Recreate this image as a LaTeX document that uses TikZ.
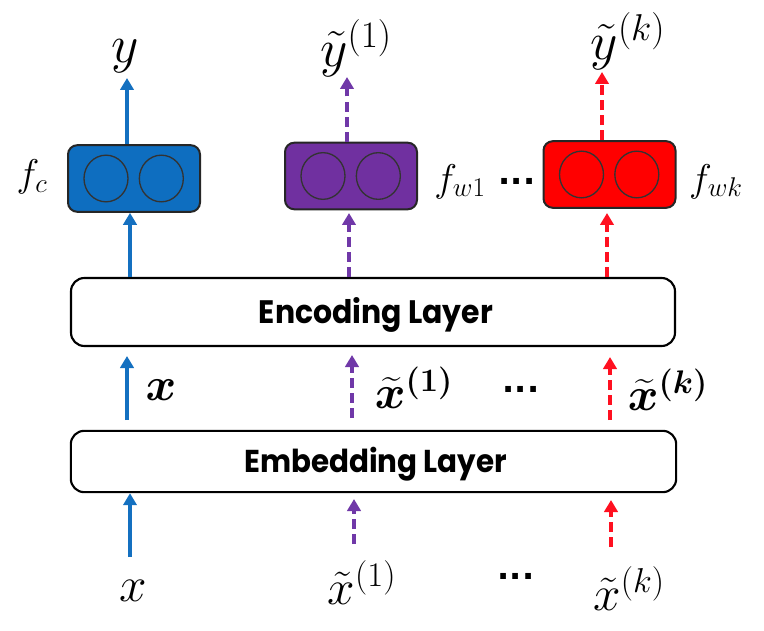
\RequirePackage{fix-cm}
\documentclass[tikz,border=0pt]{standalone}
\usepackage{amsmath,bm}
\usepackage{fontspec}
\usepackage{graphicx}
\usetikzlibrary{arrows.meta}
\newfontfamily\layerfont{Poppins}
\newfontfamily\dotfont{DejaVu Sans}
\definecolor{cblue}{RGB}{14,110,192}
\definecolor{ablue}{RGB}{20,112,192}
\definecolor{cpurple}{RGB}{112,48,160}
\definecolor{apurple}{RGB}{112,56,168}
\definecolor{cred}{RGB}{255,0,0}
\definecolor{ared}{RGB}{255,16,32}
\tikzset{
  fbox/.style={draw=black!85, line width=1.5pt, rounded corners=7pt, minimum width=99pt, minimum height=50pt, inner sep=0pt},
  layerbox/.style={draw=black, line width=1.6pt, rounded corners=10pt, fill=white, inner sep=0pt},
  neuron/.style={draw=black!80, line width=1pt},
  arr/.style={line width=2.7pt, -{Triangle[width=10pt,length=9pt]}},
  dsh/.style={dash pattern=on 7.5pt off 3.8pt},
  ylab/.style={font=\fontsize{40}{44}\selectfont, inner sep=0pt, anchor=base},
  xlab/.style={font=\fontsize{37}{42}\selectfont, inner sep=0pt, anchor=base},
  mlab/.style={font=\fontsize{35}{40}\selectfont, inner sep=0pt, anchor=base},
  flab/.style={font=\fontsize{29}{33}\selectfont, inner sep=0pt, anchor=base},
  dotlab/.style={font=\dotfont\bfseries\fontsize{24}{28}\selectfont, inner sep=0pt},
  laytext/.style={inner sep=0pt, anchor=base}
}
\begin{document}
\begin{tikzpicture}[x=0.75pt,y=-0.75pt]
\useasboundingbox (0,0) rectangle (764,631);

% layers
\node[layerbox, minimum width=453pt, minimum height=51pt] (enc) at (373,312) {};
\node[laytext] (enctext) at (376,323) {\resizebox{175.5pt}{19.5pt}{\layerfont\bfseries Encoding Layer}};
\node[layerbox, minimum width=454pt, minimum height=46pt] (emb) at (373.5,461.5) {};
\node[laytext] (embtext) at (375.5,472) {\resizebox{197pt}{19pt}{\layerfont\bfseries Embedding Layer}};

% classifier boxes
\node[fbox, fill=cblue] (fc) at (134,178.5) {};
\node[fbox, fill=cpurple] (fw1) at (351,176) {};
\node[fbox, fill=cred] (fwk) at (609.5,174.5) {};
\foreach \b in {fc,fw1,fwk}{
  \draw[neuron] ([xshift=-21pt]\b.center) ellipse [x radius=16.5pt, y radius=17.5pt];
  \draw[neuron] ([xshift=20.5pt]\b.center) ellipse [x radius=16.5pt, y radius=17.5pt];
}

% labels
\node[flab] (lfc) at (32,187) {$f_c$};
\node[flab] (lfw1) at (460,191) {$f_{w1}$};
\node[dotlab] (d1) at (517,181) {...};
\node[flab] (lfwk) at (716,191) {$f_{wk}$};

\node[ylab] (y) at (125,63) {$y$};
\node[ylab] (y1) at (356,67) {$\tilde{y}^{(1)}$};
\node[ylab] (yk) at (628,60) {$\tilde{y}^{(k)}$};

\node[mlab] (mx) at (161,400) {$\bm{x}$};
\node[mlab] (mx1) at (414,408) {$\bm{\widetilde{x}^{(1)}}$};
\node[dotlab] (d2) at (521,389) {...};
\node[mlab] (mxk) at (668,410) {$\bm{\widetilde{x}^{(k)}}$};

\node[xlab] (bx) at (133,601) {$x$};
\node[xlab] (bx1) at (362,604) {$\tilde{x}^{(1)}$};
\node[dotlab] (d3) at (516,576) {...};
\node[xlab] (bxk) at (629,610) {$\tilde{x}^{(k)}$};

% coordinates for free arrow ends
\coordinate (b0) at (130,557);
\coordinate (b1a) at (127,420); \coordinate (b1b) at (127,356);
\coordinate (b2) at (130,0);
\coordinate (b3) at (127,78);
\coordinate (p0a) at (354,544); \coordinate (p0b) at (354,499);
\coordinate (p1a) at (352,418); \coordinate (p1b) at (352,355);
\coordinate (p2) at (349,213);
\coordinate (p3) at (347,77);
\coordinate (r0a) at (611,547); \coordinate (r0b) at (611,500);
\coordinate (r1a) at (610,420); \coordinate (r1b) at (610,357);
\coordinate (r2) at (607,213);
\coordinate (r3) at (602,72);

% blue arrows
\draw[arr, ablue] (b0) -- (emb.south -| b0);
\draw[arr, ablue] (b1a) -- (b1b);
\draw[arr, ablue] (enc.north -| b2) -- (fc.south -| b2);
\draw[arr, ablue] (fc.north -| b3) -- (b3);

% purple arrows
\draw[arr, dsh, apurple] (p0a) -- (p0b);
\draw[arr, dsh, apurple] (p1a) -- (p1b);
\draw[arr, dsh, apurple] (enc.north -| p2) -- (p2);
\draw[arr, dsh, apurple] (fw1.north -| p3) -- (p3);

% red arrows
\draw[arr, dsh, ared] (r0a) -- (r0b);
\draw[arr, dsh, ared] (r1a) -- (r1b);
\draw[arr, dsh, ared] (enc.north -| r2) -- (r2);
\draw[arr, dsh, ared] (fwk.north -| r3) -- (r3);
\end{tikzpicture}
\end{document}
